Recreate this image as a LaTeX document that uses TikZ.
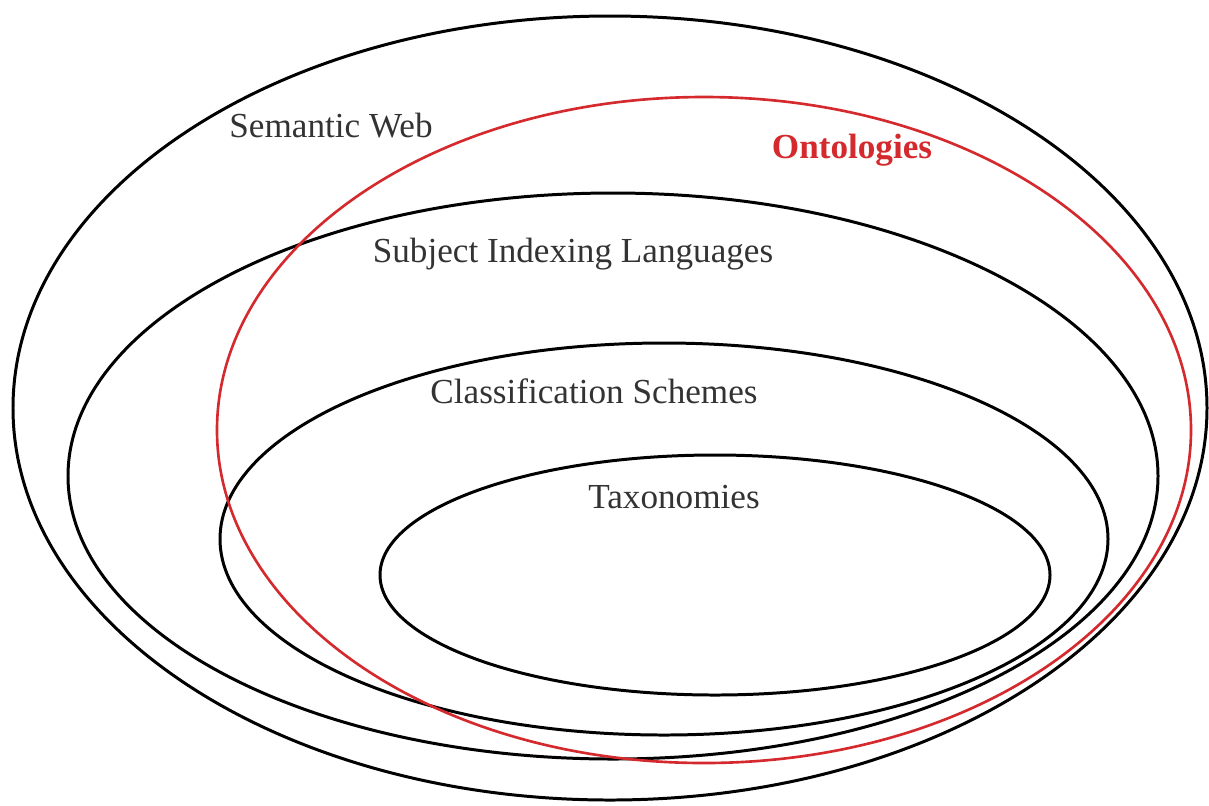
\documentclass[tikz,border=0pt]{standalone}
\usepackage{fontspec}
\setmainfont{Liberation Serif}
\usepackage[HTML]{xcolor}
\usepackage{tikz}
\usetikzlibrary{positioning}
\definecolor{ontored}{HTML}{D42A2E}
\definecolor{labelgray}{HTML}{333333}

\begin{document}
\begin{tikzpicture}[x=0.01cm,y=-0.01cm]
\tikzset{
  setline/.style={line width=0.85pt,black},
  ontoline/.style={line width=0.75pt,ontored},
  setlabel/.style={font=\fontsize{10}{12}\selectfont,text=labelgray,inner sep=0pt}
}
\useasboundingbox (0,0) rectangle (1209,805);
\draw[setline] (610,408) ellipse [x radius=597,y radius=392];
\draw[setline] (613,476) ellipse [x radius=545,y radius=283];
\draw[setline] (664,539) ellipse [x radius=444,y radius=196];
\draw[setline] (715,575) ellipse [x radius=335,y radius=120];
\draw[ontoline] (704,430) ellipse [x radius=487,y radius=333];
\node[setlabel] (semweb) at (331,126) {Semantic Web};
\node[setlabel,text=ontored,font=\fontsize{10}{12}\selectfont\bfseries] (onto) at (852,150) {Ontologies};
\node[setlabel] (subject) at (573,254) {Subject Indexing Languages};
\node[setlabel] (classif) at (594,391) {Classification Schemes};
\node[setlabel] (taxo) at (674,497) {Taxonomies};
\end{tikzpicture}
\end{document}
